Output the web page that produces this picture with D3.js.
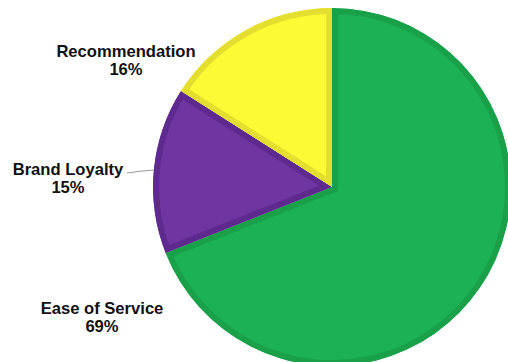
<!DOCTYPE html>
<html>
<head>
<meta charset="utf-8">
<script src="https://cdn.jsdelivr.net/npm/d3@7"></script>
<style>
  html, body { margin: 0; padding: 0; background: #fff; overflow: hidden; }
  text { font-family: "Liberation Sans", Arial, sans-serif; font-weight: bold; fill: #111; }
</style>
</head>
<body>
<div id="chart"></div>
<script>
  // slice data, clockwise from 12 o'clock
  var categories = ["Ease of Service", "Brand Loyalty", "Recommendation"];
  var values = [69, 15, 16];
  var fills = ["#1db155", "#6f35a0", "#fcf935"];
  var borders = ["#18a149", "#5f2a8f", "#e4df2e"];

  var width = 508, height = 362;
  var cx = 332, cy = 187, radius = 179;

  var svg = d3.select("#chart").append("svg")
    .attr("width", width)
    .attr("height", height);

  var data = categories.map(function (c, i) {
    return {name: c, value: values[i], fill: fills[i], border: borders[i]};
  });

  var pie = d3.pie().sort(null).value(function (d) { return d.value; });
  var arc = d3.arc().innerRadius(0).outerRadius(radius);
  var arcs = pie(data);

  var g = svg.append("g")
    .attr("transform", "translate(" + cx + "," + cy + ")");

  // clip each slice to itself so the border sits inside it
  var defs = svg.append("defs");
  defs.selectAll("clipPath")
    .data(arcs)
    .enter().append("clipPath")
      .attr("id", function (d, i) { return "clip-" + i; })
      .append("path")
      .attr("d", arc);

  g.selectAll("path.slice")
    .data(arcs)
    .enter().append("path")
      .attr("class", "slice")
      .attr("d", arc)
      .attr("fill", function (d) { return d.data.fill; })
      .attr("stroke", function (d) { return d.data.border; })
      .attr("stroke-width", 12)
      .attr("stroke-linejoin", "miter")
      .attr("clip-path", function (d, i) { return "url(#clip-" + i + ")"; });

  // labels (name + percentage)
  var labelPos = [[102, 314], [68, 175], [126, 57]];
  var total = d3.sum(values);

  var labels = svg.selectAll("g.label")
    .data(data)
    .enter().append("g")
      .attr("class", "label")
      .attr("transform", function (d, i) { return "translate(" + labelPos[i][0] + "," + labelPos[i][1] + ")"; });

  labels.append("text")
    .attr("text-anchor", "middle")
    .attr("font-size", 16.6)
    .text(function (d) { return d.name; });

  labels.append("text")
    .attr("text-anchor", "middle")
    .attr("font-size", 16.6)
    .attr("y", 18)
    .text(function (d) { return Math.round(d.value / total * 100) + "%"; });

  // leader line for Brand Loyalty
  var mid = (arcs[1].startAngle + arcs[1].endAngle) / 2;
  var edge = [cx + Math.sin(mid) * radius, cy - Math.cos(mid) * radius];
  svg.append("path")
    .attr("d", "M127,173L142,171L" + edge[0] + "," + edge[1])
    .attr("fill", "none")
    .attr("stroke", "#999")
    .attr("stroke-width", 1);
</script>
</body>
</html>
